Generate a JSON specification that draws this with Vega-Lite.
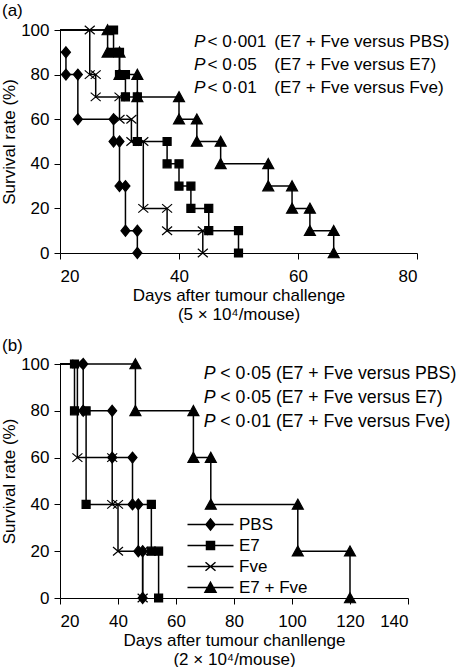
{
  "$schema": "https://vega.github.io/schema/vega-lite/v6.json",
  "background": "white",
  "padding": {"left": 0, "top": 2, "right": 0, "bottom": 0},
  "config": {
    "font": "Liberation Sans",
    "view": {"stroke": null},
    "axis": {"domainColor": "black", "tickColor": "black", "tickSize": 6, "labelFontSize": 17, "titleFontSize": 17, "titleFontWeight": "normal", "labelColor": "black", "titleColor": "black", "grid": false, "labelFont": "Liberation Sans", "titleFont": "Liberation Sans"},
    "title": {"fontSize": 17, "fontWeight": "normal", "font": "Liberation Sans", "color": "black"}
  },
  "spacing": 15,
  "datasets": {
    "curves": [
      {"panel": "a", "group": "PBS", "i": 0, "day": 20, "surv": 90},
      {"panel": "a", "group": "PBS", "i": 1, "day": 21, "surv": 90},
      {"panel": "a", "group": "PBS", "i": 2, "day": 21, "surv": 80},
      {"panel": "a", "group": "PBS", "i": 3, "day": 23, "surv": 80},
      {"panel": "a", "group": "PBS", "i": 4, "day": 23, "surv": 60},
      {"panel": "a", "group": "PBS", "i": 5, "day": 29, "surv": 60},
      {"panel": "a", "group": "PBS", "i": 6, "day": 29, "surv": 50},
      {"panel": "a", "group": "PBS", "i": 7, "day": 30, "surv": 50},
      {"panel": "a", "group": "PBS", "i": 8, "day": 30, "surv": 30},
      {"panel": "a", "group": "PBS", "i": 9, "day": 31, "surv": 30},
      {"panel": "a", "group": "PBS", "i": 10, "day": 31, "surv": 10},
      {"panel": "a", "group": "PBS", "i": 11, "day": 33, "surv": 10},
      {"panel": "a", "group": "PBS", "i": 12, "day": 33, "surv": 0},
      {"panel": "a", "group": "E7", "i": 0, "day": 20, "surv": 100},
      {"panel": "a", "group": "E7", "i": 1, "day": 29, "surv": 100},
      {"panel": "a", "group": "E7", "i": 2, "day": 29, "surv": 90},
      {"panel": "a", "group": "E7", "i": 3, "day": 30, "surv": 90},
      {"panel": "a", "group": "E7", "i": 4, "day": 30, "surv": 80},
      {"panel": "a", "group": "E7", "i": 5, "day": 31, "surv": 80},
      {"panel": "a", "group": "E7", "i": 6, "day": 31, "surv": 70},
      {"panel": "a", "group": "E7", "i": 7, "day": 33, "surv": 70},
      {"panel": "a", "group": "E7", "i": 8, "day": 33, "surv": 50},
      {"panel": "a", "group": "E7", "i": 9, "day": 38, "surv": 50},
      {"panel": "a", "group": "E7", "i": 10, "day": 38, "surv": 40},
      {"panel": "a", "group": "E7", "i": 11, "day": 40, "surv": 40},
      {"panel": "a", "group": "E7", "i": 12, "day": 40, "surv": 30},
      {"panel": "a", "group": "E7", "i": 13, "day": 42, "surv": 30},
      {"panel": "a", "group": "E7", "i": 14, "day": 42, "surv": 20},
      {"panel": "a", "group": "E7", "i": 15, "day": 45, "surv": 20},
      {"panel": "a", "group": "E7", "i": 16, "day": 45, "surv": 10},
      {"panel": "a", "group": "E7", "i": 17, "day": 50, "surv": 10},
      {"panel": "a", "group": "E7", "i": 18, "day": 50, "surv": 0},
      {"panel": "a", "group": "Fve", "i": 0, "day": 20, "surv": 100},
      {"panel": "a", "group": "Fve", "i": 1, "day": 25, "surv": 100},
      {"panel": "a", "group": "Fve", "i": 2, "day": 25, "surv": 80},
      {"panel": "a", "group": "Fve", "i": 3, "day": 26, "surv": 80},
      {"panel": "a", "group": "Fve", "i": 4, "day": 26, "surv": 70},
      {"panel": "a", "group": "Fve", "i": 5, "day": 30, "surv": 70},
      {"panel": "a", "group": "Fve", "i": 6, "day": 30, "surv": 60},
      {"panel": "a", "group": "Fve", "i": 7, "day": 32, "surv": 60},
      {"panel": "a", "group": "Fve", "i": 8, "day": 32, "surv": 50},
      {"panel": "a", "group": "Fve", "i": 9, "day": 34, "surv": 50},
      {"panel": "a", "group": "Fve", "i": 10, "day": 34, "surv": 20},
      {"panel": "a", "group": "Fve", "i": 11, "day": 38, "surv": 20},
      {"panel": "a", "group": "Fve", "i": 12, "day": 38, "surv": 10},
      {"panel": "a", "group": "Fve", "i": 13, "day": 44, "surv": 10},
      {"panel": "a", "group": "Fve", "i": 14, "day": 44, "surv": 0},
      {"panel": "a", "group": "E7 + Fve", "i": 0, "day": 20, "surv": 100},
      {"panel": "a", "group": "E7 + Fve", "i": 1, "day": 28, "surv": 100},
      {"panel": "a", "group": "E7 + Fve", "i": 2, "day": 28, "surv": 90},
      {"panel": "a", "group": "E7 + Fve", "i": 3, "day": 30, "surv": 90},
      {"panel": "a", "group": "E7 + Fve", "i": 4, "day": 30, "surv": 80},
      {"panel": "a", "group": "E7 + Fve", "i": 5, "day": 33, "surv": 80},
      {"panel": "a", "group": "E7 + Fve", "i": 6, "day": 33, "surv": 70},
      {"panel": "a", "group": "E7 + Fve", "i": 7, "day": 40, "surv": 70},
      {"panel": "a", "group": "E7 + Fve", "i": 8, "day": 40, "surv": 60},
      {"panel": "a", "group": "E7 + Fve", "i": 9, "day": 43, "surv": 60},
      {"panel": "a", "group": "E7 + Fve", "i": 10, "day": 43, "surv": 50},
      {"panel": "a", "group": "E7 + Fve", "i": 11, "day": 47, "surv": 50},
      {"panel": "a", "group": "E7 + Fve", "i": 12, "day": 47, "surv": 40},
      {"panel": "a", "group": "E7 + Fve", "i": 13, "day": 55, "surv": 40},
      {"panel": "a", "group": "E7 + Fve", "i": 14, "day": 55, "surv": 30},
      {"panel": "a", "group": "E7 + Fve", "i": 15, "day": 59, "surv": 30},
      {"panel": "a", "group": "E7 + Fve", "i": 16, "day": 59, "surv": 20},
      {"panel": "a", "group": "E7 + Fve", "i": 17, "day": 62, "surv": 20},
      {"panel": "a", "group": "E7 + Fve", "i": 18, "day": 62, "surv": 10},
      {"panel": "a", "group": "E7 + Fve", "i": 19, "day": 66, "surv": 10},
      {"panel": "a", "group": "E7 + Fve", "i": 20, "day": 66, "surv": 0},
      {"panel": "b", "group": "PBS", "i": 0, "day": 20, "surv": 100},
      {"panel": "b", "group": "PBS", "i": 1, "day": 28, "surv": 100},
      {"panel": "b", "group": "PBS", "i": 2, "day": 28, "surv": 80},
      {"panel": "b", "group": "PBS", "i": 3, "day": 38, "surv": 80},
      {"panel": "b", "group": "PBS", "i": 4, "day": 38, "surv": 60},
      {"panel": "b", "group": "PBS", "i": 5, "day": 45, "surv": 60},
      {"panel": "b", "group": "PBS", "i": 6, "day": 45, "surv": 40},
      {"panel": "b", "group": "PBS", "i": 7, "day": 47, "surv": 40},
      {"panel": "b", "group": "PBS", "i": 8, "day": 47, "surv": 20},
      {"panel": "b", "group": "PBS", "i": 9, "day": 48.5, "surv": 20},
      {"panel": "b", "group": "PBS", "i": 10, "day": 48.5, "surv": 0},
      {"panel": "b", "group": "E7", "i": 0, "day": 20, "surv": 100},
      {"panel": "b", "group": "E7", "i": 1, "day": 25, "surv": 100},
      {"panel": "b", "group": "E7", "i": 2, "day": 25, "surv": 80},
      {"panel": "b", "group": "E7", "i": 3, "day": 29, "surv": 80},
      {"panel": "b", "group": "E7", "i": 4, "day": 29, "surv": 40},
      {"panel": "b", "group": "E7", "i": 5, "day": 51.5, "surv": 40},
      {"panel": "b", "group": "E7", "i": 6, "day": 51.5, "surv": 20},
      {"panel": "b", "group": "E7", "i": 7, "day": 54, "surv": 20},
      {"panel": "b", "group": "E7", "i": 8, "day": 54, "surv": 0},
      {"panel": "b", "group": "Fve", "i": 0, "day": 20, "surv": 100},
      {"panel": "b", "group": "Fve", "i": 1, "day": 26, "surv": 100},
      {"panel": "b", "group": "Fve", "i": 2, "day": 26, "surv": 60},
      {"panel": "b", "group": "Fve", "i": 3, "day": 38, "surv": 60},
      {"panel": "b", "group": "Fve", "i": 4, "day": 38, "surv": 40},
      {"panel": "b", "group": "Fve", "i": 5, "day": 40, "surv": 40},
      {"panel": "b", "group": "Fve", "i": 6, "day": 40, "surv": 20},
      {"panel": "b", "group": "Fve", "i": 7, "day": 48.5, "surv": 20},
      {"panel": "b", "group": "Fve", "i": 8, "day": 48.5, "surv": 0},
      {"panel": "b", "group": "E7 + Fve", "i": 0, "day": 20, "surv": 100},
      {"panel": "b", "group": "E7 + Fve", "i": 1, "day": 46, "surv": 100},
      {"panel": "b", "group": "E7 + Fve", "i": 2, "day": 46, "surv": 80},
      {"panel": "b", "group": "E7 + Fve", "i": 3, "day": 66, "surv": 80},
      {"panel": "b", "group": "E7 + Fve", "i": 4, "day": 66, "surv": 60},
      {"panel": "b", "group": "E7 + Fve", "i": 5, "day": 72, "surv": 60},
      {"panel": "b", "group": "E7 + Fve", "i": 6, "day": 72, "surv": 40},
      {"panel": "b", "group": "E7 + Fve", "i": 7, "day": 102, "surv": 40},
      {"panel": "b", "group": "E7 + Fve", "i": 8, "day": 102, "surv": 20},
      {"panel": "b", "group": "E7 + Fve", "i": 9, "day": 120, "surv": 20},
      {"panel": "b", "group": "E7 + Fve", "i": 10, "day": 120, "surv": 0}
    ]
  },
  "vconcat": [
    {
      "width": 357,
      "height": 223,
      "title": {"text": "(a)", "anchor": "start", "frame": "group", "dx": -58, "offset": 1},
      "layer": [
        {
          "data": {"name": "curves"},
          "transform": [{"filter": "datum.panel === 'a'"}],
          "mark": {"type": "line", "color": "black", "strokeWidth": 1.5},
          "encoding": {
            "x": {"field": "day", "type": "quantitative", "scale": {"domain": [20, 80], "nice": false},
                  "axis": {"values": [20, 40, 60, 80], "labelPadding": 9, "titlePadding": 3, "titleLineHeight": 19, "title": ["Days after tumour challenge", "(5 × 10⁴/mouse)"]}},
            "y": {"field": "surv", "type": "quantitative", "scale": {"domain": [0, 100], "nice": false},
                  "axis": {"values": [0, 20, 40, 60, 80, 100], "labelPadding": 5, "titlePadding": 2, "title": "Survival rate (%)"}},
            "detail": {"field": "group"},
            "order": {"field": "i"}
          }
        },
        {
          "data": {"name": "curves"},
          "transform": [{"filter": "datum.panel === 'a' && datum.day > 20"}],
          "mark": {"type": "point", "filled": true, "color": "black", "stroke": "black", "strokeWidth": 1.2, "size": 100, "opacity": 1},
          "encoding": {
            "x": {"field": "day", "type": "quantitative"},
            "y": {"field": "surv", "type": "quantitative"},
            "shape": {"field": "group", "type": "nominal", "legend": null,
                      "scale": {"domain": ["PBS", "E7", "Fve", "E7 + Fve"],
                                "range": ["M0,-1.1L0.9,0L0,1.1L-0.9,0Z", "M-0.8,-0.8H0.8V0.8H-0.8Z", "M-1,-0.85L1,0.85M-1,0.85L1,-0.85", "M0,-1.05L1.1,0.95L-1.1,0.95Z"]}}
          }
        },
        {
          "data": {"values": [{}]},
          "mark": {"type": "text", "text": ["P", "P", "P"], "fontStyle": "italic", "fontSize": 17.2, "align": "left", "baseline": "middle", "lineHeight": 23.3, "color": "black"},
          "encoding": {"x": {"datum": 42.5}, "y": {"datum": 94.7}}
        },
        {
          "data": {"values": [{}]},
          "mark": {"type": "text", "text": ["< 0·001", "< 0·05", "< 0·01"], "fontSize": 17.2, "align": "left", "baseline": "middle", "lineHeight": 23.3, "color": "black"},
          "encoding": {"x": {"datum": 44.8}, "y": {"datum": 94.7}}
        },
        {
          "data": {"values": [{}]},
          "mark": {"type": "text", "text": ["(E7 + Fve versus PBS)", "(E7 + Fve versus E7)", "(E7 + Fve versus Fve)"], "fontSize": 17.2, "align": "left", "baseline": "middle", "lineHeight": 23.3, "color": "black"},
          "encoding": {"x": {"datum": 56.0}, "y": {"datum": 94.7}}
        }
      ]
    },
    {
      "width": 348,
      "height": 234,
      "title": {"text": "(b)", "anchor": "start", "frame": "group", "dx": -58, "offset": 0},
      "resolve": {"scale": {"shape": "independent"}},
      "layer": [
        {
          "data": {"name": "curves"},
          "transform": [{"filter": "datum.panel === 'b'"}],
          "mark": {"type": "line", "color": "black", "strokeWidth": 1.5},
          "encoding": {
            "x": {"field": "day", "type": "quantitative", "scale": {"domain": [20, 140], "nice": false},
                  "axis": {"values": [20, 40, 60, 80, 100, 120, 140], "labelPadding": 9, "titlePadding": 3, "titleLineHeight": 19, "title": ["Days after tumour chanllenge", "(2 × 10⁴/mouse)"]}},
            "y": {"field": "surv", "type": "quantitative", "scale": {"domain": [0, 100], "nice": false},
                  "axis": {"values": [0, 20, 40, 60, 80, 100], "labelPadding": 5, "titlePadding": 2, "title": "Survival rate (%)"}},
            "detail": {"field": "group"},
            "order": {"field": "i"}
          }
        },
        {
          "data": {"name": "curves"},
          "transform": [{"filter": "datum.panel === 'b' && datum.day > 20"}],
          "mark": {"type": "point", "filled": true, "color": "black", "stroke": "black", "strokeWidth": 1.2, "size": 100, "opacity": 1},
          "encoding": {
            "x": {"field": "day", "type": "quantitative"},
            "y": {"field": "surv", "type": "quantitative"},
            "shape": {"field": "group", "type": "nominal", "legend": null,
                      "scale": {"domain": ["PBS", "E7", "Fve", "E7 + Fve"],
                                "range": ["M0,-1.1L0.9,0L0,1.1L-0.9,0Z", "M-0.8,-0.8H0.8V0.8H-0.8Z", "M-1,-0.85L1,0.85M-1,0.85L1,-0.85", "M0,-1.05L1.1,0.95L-1.1,0.95Z"]}}
          }
        },
        {
          "data": {"name": "curves"},
          "transform": [{"filter": "false"}],
          "mark": {"type": "point", "filled": true, "color": "black", "stroke": "black", "strokeWidth": 1.5, "size": 100, "opacity": 1},
          "encoding": {
            "shape": {"field": "group", "type": "nominal",
                      "scale": {"domain": ["PBS", "E7", "Fve", "E7 + Fve"],
                                "range": ["M-4.6,0L4.6,0M0,-1.1L0.9,0L0,1.1L-0.9,0Z", "M-4.6,0L4.6,0M-0.8,-0.8H0.8V0.8H-0.8Z", "M-4.6,0L4.6,0M-1,-0.85L1,0.85M-1,0.85L1,-0.85", "M-4.6,0L4.6,0M0,-1.05L1.1,0.95L-1.1,0.95Z"]},
                      "legend": {"title": null, "orient": "none", "legendX": 142, "legendY": 152, "padding": 0, "labelFontSize": 17, "labelFont": "Liberation Sans", "labelColor": "black", "labelOffset": 20, "rowPadding": 3, "symbolSize": 100,
                                 "encode": {"symbols": {"update": {"stroke": {"value": "black"}, "strokeWidth": {"value": 1.5}, "fill": {"value": "black"}, "opacity": {"value": 1}}}}}}
          }
        },
        {
          "data": {"values": [{}]},
          "mark": {"type": "text", "text": ["P", "P", "P"], "fontStyle": "italic", "fontSize": 17.7, "align": "left", "baseline": "middle", "lineHeight": 24, "color": "black"},
          "encoding": {"x": {"datum": 69.55}, "y": {"datum": 95.6}}
        },
        {
          "data": {"values": [{}]},
          "mark": {"type": "text", "text": ["< 0·05 (E7 + Fve versus PBS)", "< 0·05 (E7 + Fve versus E7)", "< 0·01 (E7 + Fve versus Fve)"], "fontSize": 17.7, "align": "left", "baseline": "middle", "lineHeight": 24, "color": "black"},
          "encoding": {"x": {"datum": 75.3}, "y": {"datum": 95.6}}
        }
      ]
    }
  ]
}
